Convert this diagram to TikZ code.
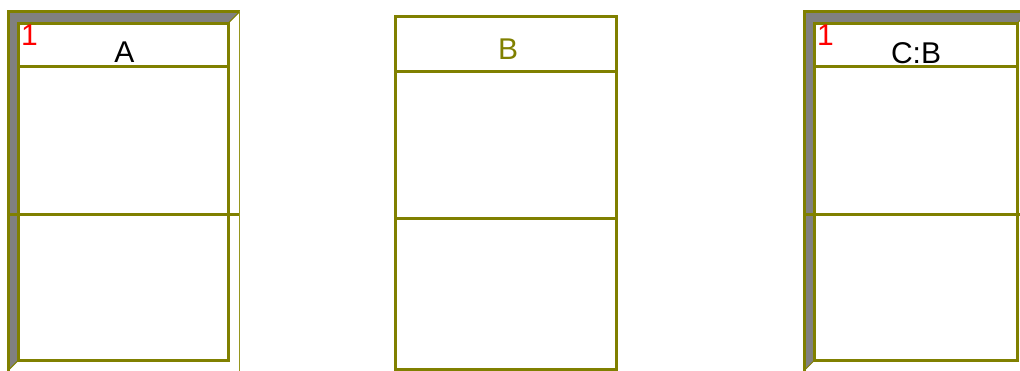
\documentclass[tikz,border=0pt]{standalone}
\usepackage{fontspec}
\setmainfont{Liberation Sans}
\begin{document}
\begin{tikzpicture}[x=1pt, y=-1pt, font=\fontsize{30}{32}\selectfont]
		\definecolor{olivec}{RGB}{128,128,0}
		\definecolor{bevel}{RGB}{128,128,128}
		\definecolor{edgelight}{RGB}{150,150,30}
		\useasboundingbox (0,0) rectangle (1020,370);
		
		% 带斜面边框的对象 A 和 C:B
		\foreach \xl/\xr in {18.7/228.3, 814.7/1017.5} {
			\fill[bevel] (\xl-10,12) -- (\xr+11,12) -- (\xr,23) -- (\xl,23) -- (\xl,360) -- (\xl-10,370) -- cycle;
			\draw[olivec, line width=3pt] (\xl-10.3,372) -- (\xl-10.3,11.8) -- (\xr+11.5,11.8);
			\draw[edgelight, line width=1.6pt] (\xr+11.2,11) -- (\xr+11.2,372);
			\draw[olivec, line width=1pt] (\xr,23) -- (\xr+11,12);
			\draw[olivec, line width=1pt] (\xl,360) -- (\xl-10,370);
			\draw[olivec, line width=3pt] (\xl,23) rectangle (\xr,360);
			\draw[olivec, line width=3pt] (\xl,66.8) -- (\xr,66.8);
			\draw[olivec, line width=3pt] (\xl-10,214) -- (\xr+11,214);
		}
		
		% 普通对象 B
		\draw[olivec, line width=3pt] (395.5,16) rectangle (616,369);
		\draw[olivec, line width=3pt] (395.5,71) -- (616,71);
		\draw[olivec, line width=3pt] (395.5,218) -- (616,218);
		
		% 名称与编号
		\node[anchor=base, text=red] (numA) at (29.5,45) {1};
		\node[anchor=base] (nameA) at (124.5,62.5) {A};
		\node[anchor=base, text=olivec] (nameB) at (508,59) {B};
		\node[anchor=base, text=red] (numC) at (825.5,45) {1};
		\node[anchor=base] (nameC) at (916,63) {C:B};
	\end{tikzpicture}
\end{document}
